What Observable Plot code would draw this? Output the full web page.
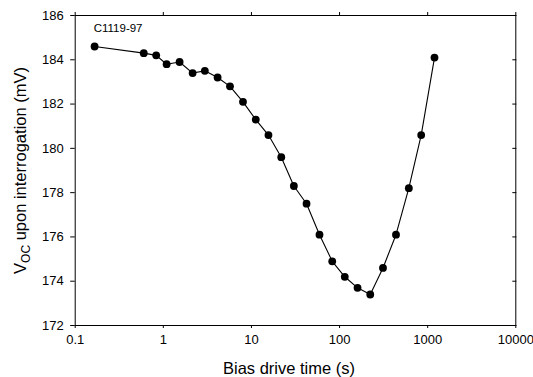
<!DOCTYPE html>
<html>
<head>
<meta charset="utf-8">
<script src="https://cdn.jsdelivr.net/npm/d3@7"></script>
<script src="https://cdn.jsdelivr.net/npm/@observablehq/plot@0.6"></script>
<style>
  html, body { margin: 0; padding: 0; background: white; }
</style>
</head>
<body>
<div id="chart"></div>
<script>
// Data
const times = [0.166, 0.60, 0.83, 1.09, 1.53, 2.15, 2.96, 4.13, 5.71, 8.02, 11.2, 15.6, 21.8, 30.3, 42.2, 59.2, 82.6, 114.6, 160, 223, 311, 437, 611, 844, 1195];
const voc = [184.6, 184.3, 184.2, 183.8, 183.9, 183.4, 183.5, 183.2, 182.8, 182.1, 181.3, 180.6, 179.6, 178.3, 177.5, 176.1, 174.9, 174.2, 173.7, 173.4, 174.6, 176.1, 178.2, 180.6, 184.1];
const xTicks = [0.1, 1, 10, 100, 1000, 10000];
const yTicks = [172, 174, 176, 178, 180, 182, 184, 186];
const sampleLabel = "C1119-97";
const xTitle = "Bias drive time (s)";

const data = times.map((t, i) => ({t, v: voc[i]}));

const plot = Plot.plot({
  width: 533,
  height: 377,
  marginLeft: 74.7,
  marginRight: 17.7,
  marginTop: 15,
  marginBottom: 52,
  style: {fontFamily: "'Liberation Sans', Arial, sans-serif", fontSize: "13px", background: "white", color: "black"},
  x: {type: "log", domain: [0.1, 10000]},
  y: {domain: [172, 186]},
  marks: [
    Plot.frame({stroke: "black", strokeWidth: 1}),
    Plot.axisX({ticks: xTicks, tickSize: 3, tickPadding: 6, tickFormat: d => String(d), label: null, fontSize: 13}),
    Plot.axisX({anchor: "top", ticks: xTicks, tickSize: 4, tickFormat: () => "", label: null}),
    Plot.axisY({ticks: yTicks, tickSize: 4.5, tickPadding: 7, label: null, fontSize: 13}),
    Plot.axisY({anchor: "right", ticks: yTicks, tickSize: 4, dx: -4, tickFormat: () => "", label: null}),
    Plot.line(data, {x: "t", y: "v", stroke: "black", strokeWidth: 1.1}),
    Plot.dot(data, {x: "t", y: "v", r: 3.9, fill: "black", stroke: "none"}),
    Plot.text([sampleLabel], {frameAnchor: "top-left", dx: 18.5, dy: 13, lineAnchor: "middle", textAnchor: "start", fontSize: 11.5, fill: "black"})
  ]
});

const svg = d3.select(plot);
svg.append("text")
  .attr("x", 289)
  .attr("y", 373.5)
  .attr("text-anchor", "middle")
  .style("font-size", "16.5px")
  .attr("fill", "black")
  .text(xTitle);

const yt = svg.append("text")
  .attr("transform", "translate(26,170.5) rotate(-90)")
  .attr("text-anchor", "middle")
  .style("font-size", "16.5px")
  .attr("fill", "black");
yt.append("tspan").text("V");
yt.append("tspan").attr("dy", 4).style("font-size", "12px").text("OC");
yt.append("tspan").attr("dy", -4).text(" upon interrogation (mV)");

document.getElementById("chart").appendChild(plot);
</script>
</body>
</html>
